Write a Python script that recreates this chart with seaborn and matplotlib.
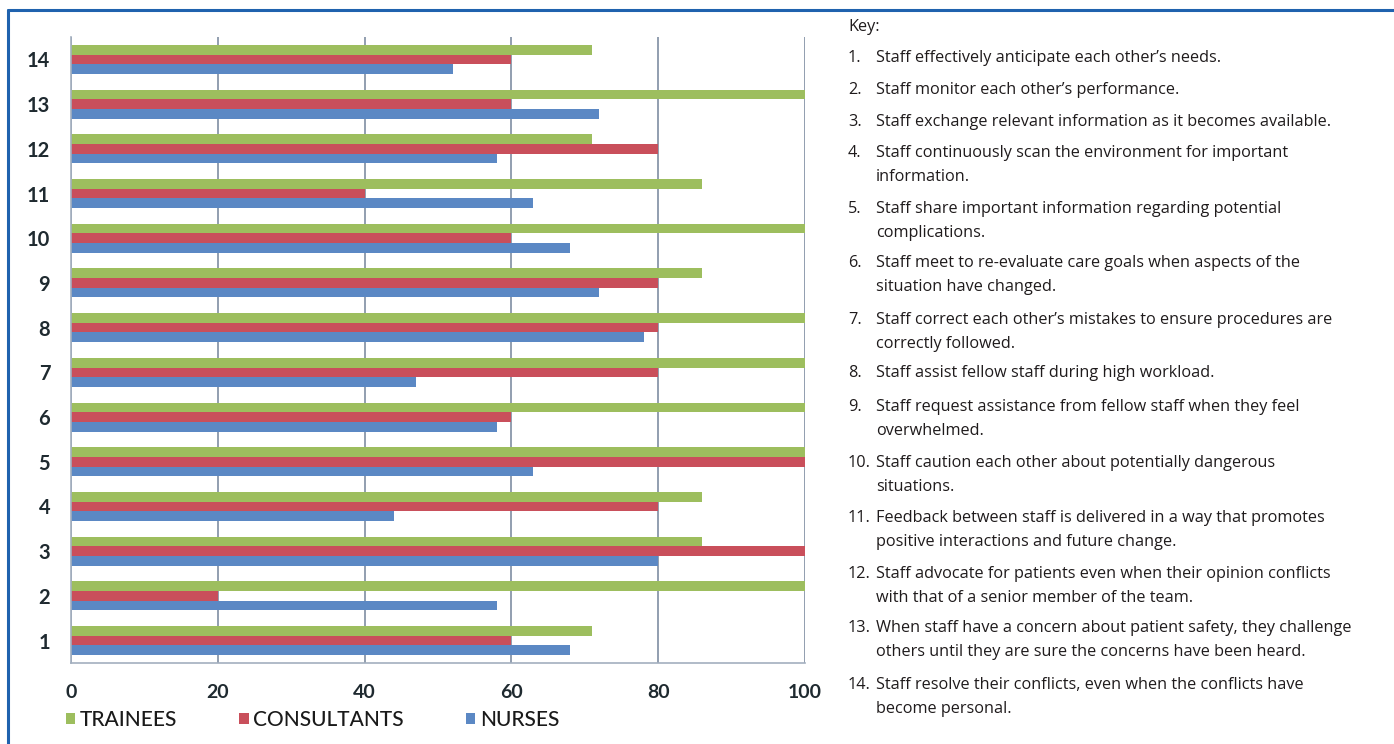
import numpy as np
import pandas as pd
import matplotlib
matplotlib.use("Agg")
import matplotlib.pyplot as plt
from matplotlib.lines import Line2D
from matplotlib.ticker import FixedLocator
import seaborn as sns

# ---------------- data ----------------
items = [str(i) for i in range(1, 15)]
groups = ["TRAINEES", "CONSULTANTS", "NURSES"]
trainees    = [71, 100, 86, 86, 100, 100, 100, 100, 86, 100, 86, 71, 100, 71]
consultants = [60, 20, 100, 80, 100, 60, 80, 80, 80, 60, 40, 80, 60, 60]
nurses      = [68, 58, 80, 44, 63, 58, 47, 78, 72, 68, 63, 58, 72, 52]
x_ticks = [0, 20, 40, 60, 80, 100]

key_title = "Key:"
key_items = [
    ["Staff effectively anticipate each other\u2019s needs."],
    ["Staff monitor each other\u2019s performance."],
    ["Staff exchange relevant information as it becomes available."],
    ["Staff continuously scan the environment for important", "information."],
    ["Staff share important information regarding potential", "complications."],
    ["Staff meet to re-evaluate care goals when aspects of the", "situation have changed."],
    ["Staff correct each other\u2019s mistakes to ensure procedures are", "correctly followed."],
    ["Staff assist fellow staff during high workload."],
    ["Staff request assistance from fellow staff when they feel", "overwhelmed."],
    ["Staff caution each other about potentially dangerous", "situations."],
    ["Feedback between staff is delivered in a way that promotes", "positive interactions and future change."],
    ["Staff advocate for patients even when their opinion conflicts", "with that of a senior member of the team."],
    ["When staff have a concern about patient safety, they challenge", "others until they are sure the concerns have been heard."],
    ["Staff resolve their conflicts, even when the conflicts have", "become personal."],
]

df = pd.DataFrame({
    "item": items * 3,
    "group": [g for g in groups for _ in items],
    "value": trainees + consultants + nurses,
})

# ---------------- style ----------------
sns.set_style("white")
plt.rcParams["font.family"] = ["Lato", "DejaVu Sans"]

W, H = 1394, 744
fig = plt.figure(figsize=(W / 100, H / 100), dpi=100)
fig.patch.set_facecolor("white")

def fx(px):
    return px / W

def fy(py):
    return 1 - py / H

ax = fig.add_axes([fx(71), fy(663), fx(805) - fx(71), fy(37) - fy(663)])

palette = {"TRAINEES": "#9DBE5E", "CONSULTANTS": "#C94F5B", "NURSES": "#5B88C4"}
order = [str(i) for i in range(14, 0, -1)]
sns.barplot(data=df, y="item", x="value", hue="group", order=order,
            hue_order=groups, palette=palette, width=0.65, orient="h",
            saturation=1, linewidth=0, ax=ax)

axis_col = "#A3AFBF"
grid_col = "#929EAF"
ax.set_xlim(0, 100)
ax.set_xticks(x_ticks)
ax.set_xlabel("")
ax.set_ylabel("")
ax.set_axisbelow(True)
ax.xaxis.grid(True, color=grid_col, lw=1.4)
ax.yaxis.grid(False)
for s in ["top", "right"]:
    ax.spines[s].set_visible(False)
for s in ["left", "bottom"]:
    ax.spines[s].set_color(axis_col)
    ax.spines[s].set_linewidth(1.2)

ax.tick_params(axis="x", direction="out", length=4, width=1.2, color=axis_col,
               pad=11, labelsize=14, labelcolor="#1f2a30")
ax.tick_params(axis="y", which="major", length=0, pad=15, labelsize=14.5,
               labelcolor="#1f2a30")
ax.yaxis.set_minor_locator(FixedLocator(np.arange(-0.5, 14, 1.0)))
ax.tick_params(axis="y", which="minor", direction="out", length=4, width=1.2,
               color=axis_col)
for lab in ax.get_xticklabels() + ax.get_yticklabels():
    lab.set_fontweight("bold")

handles, labels = ax.get_legend_handles_labels()
leg = ax.legend(handles, labels, loc="center left",
                bbox_to_anchor=(fx(66), fy(720)), bbox_transform=fig.transFigure,
                ncol=3, frameon=False, fontsize=15, handlelength=0.45,
                handleheight=0.45, handletextpad=0.2, columnspacing=3.0,
                borderpad=0, borderaxespad=0)
for t in leg.get_texts():
    t.set_color("#1a1a1a")
    t.set_fontweight("medium")

# ---------------- key text ----------------
key_font = dict(fontsize=11.7, color="#1f1b1c", va="center", ha="left",
                family=["Open Sans", "DejaVu Sans"])
fig.text(fx(848), fy(27), key_title, **key_font)
first_y = [58, 90, 122, 153, 209, 263, 320, 373, 407, 463, 518, 574, 628, 685]
for i, (lines, y0) in enumerate(zip(key_items, first_y)):
    fig.text(fx(848), fy(y0), f"{i + 1}.", **key_font)
    for j, line in enumerate(lines):
        fig.text(fx(876), fy(y0 + 24 * j), line, **key_font)

# ---------------- frame lines ----------------
frame_col = "#1F62AE"
fig.add_artist(Line2D([fx(8), 1], [fy(10), fy(10)], color=frame_col, lw=2.2,
                      transform=fig.transFigure))
fig.add_artist(Line2D([fx(8), fx(8)], [fy(10), 0], color=frame_col, lw=2.2,
                      transform=fig.transFigure))

fig.savefig("out.png", dpi=100, facecolor="white")
